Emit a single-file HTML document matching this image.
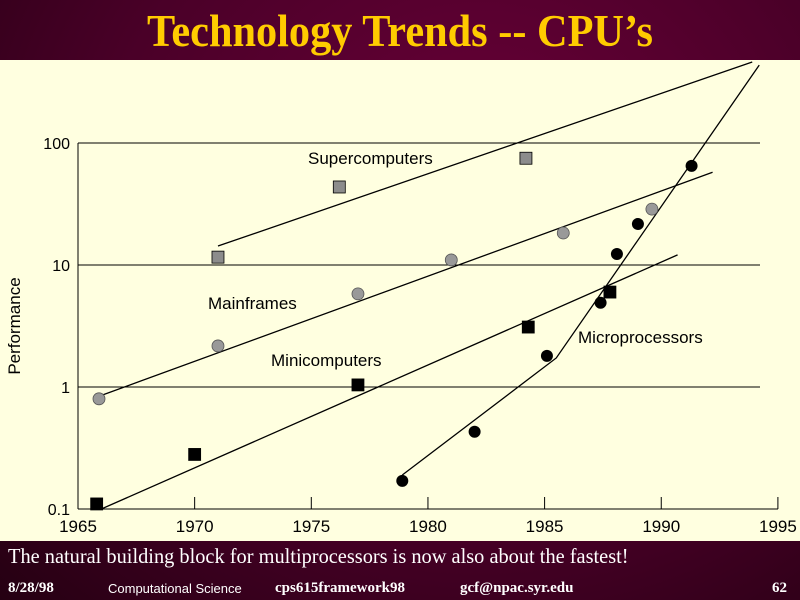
<!DOCTYPE html>
<html><head><meta charset="utf-8"><style>
body{margin:0;width:800px;height:600px;overflow:hidden;font-family:"Liberation Sans",sans-serif}
#bg{position:absolute;left:0;top:0;width:800px;height:600px;background:radial-gradient(ellipse at 60% 30%,#6a0038 0%,#4a0028 55%,#250012 100%)}
#panel{position:absolute;left:0;top:60px;width:800px;height:481px;background:#ffffe0}
.t{position:absolute;font-family:"Liberation Serif",serif;font-weight:bold;color:#ffcc00}
</style></head><body>
<div id="bg"></div>
<div id="panel"></div>
<div class="t" style="left:0;width:800px;text-align:center;top:4px;font-size:46px;transform:scaleX(0.92)">Technology Trends -- CPU’s</div>
<div class="t" style="left:8px;top:544px;font-size:21px;color:#fff;font-weight:normal;transform-origin:left;transform:scaleX(0.97)">The natural building block for multiprocessors is now also about the fastest!</div>
<div class="t" style="left:8px;top:580px;font-size:15px;color:#fff">8/28/98</div>
<div class="t" style="left:108px;top:581px;font-size:13px;color:#fff;font-family:'Liberation Sans',sans-serif;font-weight:normal">Computational Science</div>
<div class="t" style="left:275px;top:580px;font-size:15px;color:#fff">cps615framework98</div>
<div class="t" style="left:460px;top:580px;font-size:15px;color:#fff">gcf@npac.syr.edu</div>
<div class="t" style="left:772px;top:580px;font-size:15px;color:#fff">62</div>
<svg id="chart" width="800" height="600" style="position:absolute;left:0;top:0"></svg>
<script>
const xTicks=[1965,1970,1975,1980,1985,1990,1995];
const yTicks=[0.1,1,10,100];
const yTickLabels=["0.1","1","10","100"];
const superYears=[1971,1976.2,1984.2];
const superVals=[11.6,43.6,75];
const mainYears=[1965.9,1971,1977,1981,1985.8,1989.6];
const mainVals=[0.8,2.17,5.8,11,18.3,28.7];
const miniYears=[1965.8,1970,1977,1984.3,1987.8];
const miniVals=[0.11,0.28,1.04,3.1,6];
const microYears=[1978.9,1982,1985.1,1987.4,1988.1,1989,1991.3];
const microVals=[0.17,0.43,1.8,4.9,12.3,21.7,65];
const superTrendYears=[1971,1993.9];const superTrendVals=[14.3,461];
const mainTrendYears=[1965.9,1992.2];const mainTrendVals=[0.84,57.6];
const miniTrendYears=[1966,1990.7];const miniTrendVals=[0.1,12.1];
const microTrendYears=[1978.9,1985.5,1994.2];const microTrendVals=[0.19,1.73,435];
const X=y=>78+(y-1965)*23.33;
const Y=v=>387-Math.log10(v)*122;
const svg=document.getElementById('chart');const NS='http://www.w3.org/2000/svg';
function mk(t,a){const e=document.createElementNS(NS,t);for(const k in a)e.setAttribute(k,a[k]);svg.appendChild(e);return e;}
yTicks.forEach((v,i)=>{
 if(v>0.1){const g=mk('line',{x1:78,x2:760,y1:Y(v),y2:Y(v),stroke:'#000','stroke-width':1});
 
 }
 const t=mk('text',{x:70,y:Y(v)+6,'text-anchor':'end','font-size':16,'font-family':'Liberation Sans, sans-serif'});t.textContent=yTickLabels[i];
 
 
});
const ax=mk('line',{x1:78,x2:78,y1:Y(100),y2:Y(0.1),stroke:'#000'});


const bx=mk('line',{x1:78,x2:778,y1:Y(0.1),y2:Y(0.1),stroke:'#000'});


xTicks.forEach(y=>{
 const tk=mk('line',{x1:X(y),x2:X(y),y1:Y(0.1),y2:Y(0.1)-12,stroke:'#000'});
 
 
 const t=mk('text',{x:X(y),y:532,'text-anchor':'middle','font-size':17,'font-family':'Liberation Sans, sans-serif'});t.textContent=y;
 
 
});
const yl=mk('text',{x:20,y:326,'text-anchor':'middle','font-size':17,transform:'rotate(-90 20 326)','font-family':'Liberation Sans, sans-serif'});yl.textContent='Performance';


function trend(ys,vs,name){const l=mk('polyline',{points:ys.map((y,i)=>X(y)+','+Y(vs[i])).join(' '),fill:'none',stroke:'#000','stroke-width':1.3});
 
 }
trend(superTrendYears,superTrendVals,'supercomputers-trend');
trend(mainTrendYears,mainTrendVals,'mainframes-trend');
trend(miniTrendYears,miniTrendVals,'minicomputers-trend');
trend(microTrendYears,microTrendVals,'microprocessors-trend');
function pts(ys,vs,shape,fill,name){ys.forEach((y,i)=>{let e;
 if(shape==='sq')e=mk('rect',{x:X(y)-6,y:Y(vs[i])-6,width:12,height:12,fill:fill,stroke:'#000','stroke-width':0.8});
 else e=mk('circle',{cx:X(y),cy:Y(vs[i]),r:6,fill:fill,stroke:fill==='#000'?'none':'#555','stroke-width':0.8});
 
 });}
pts(superYears,superVals,'sq','#8c8c8c','supercomputer-point');
pts(mainYears,mainVals,'c','#999','mainframe-point');
pts(miniYears,miniVals,'sq','#000','minicomputer-point');
pts(microYears,microVals,'c','#000','microprocessor-point');
function lab(txt,x,y,name){const t=mk('text',{x:x,y:y,'font-size':17,'font-family':'Liberation Sans, sans-serif'});t.textContent=txt;
 
 }
lab('Supercomputers',308,164,'supercomputers-label');
lab('Mainframes',208,309,'mainframes-label');
lab('Minicomputers',271,366,'minicomputers-label');
lab('Microprocessors',578,343,'microprocessors-label');
</script>
</body></html>
